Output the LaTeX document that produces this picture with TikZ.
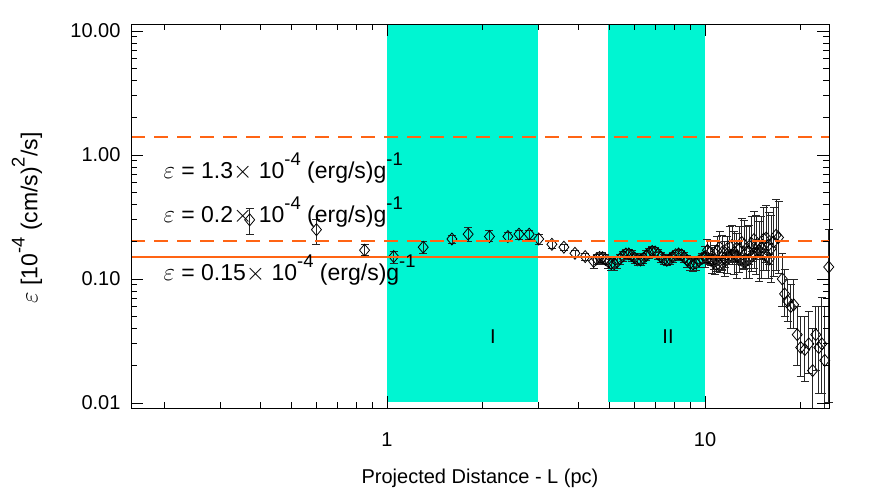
\documentclass[tikz,border=0pt]{standalone}
\usepackage{fontspec}
\setmainfont{Liberation Sans}
\newcommand\dpt[4]{%
\pgfmathsetmacro\px{387+318*log10(#1)}%
\pgfmathsetmacro\py{155-124*log10(#2)}%
\pgfmathsetmacro\plo{min(408,155-124*log10(#3))}%
\pgfmathsetmacro\phh{155-124*log10(#4)}%
\draw[ebar] (\px,\plo) -- (\px,\phh) (\px-4,\plo) -- (\px+4,\plo) (\px-4,\phh) -- (\px+4,\phh);
\draw[dmark] (\px-5,\py) -- (\px,\py-6) -- (\px+5,\py) -- (\px,\py+6) -- cycle;}
\newcommand\sprs[1]{\raisebox{0.55em}{\scalebox{0.8}{#1}}}
\begin{document}
\begin{tikzpicture}[x=1pt,y=-1pt,
  ebar/.style={line width=0.7pt,black!85},
  dmark/.style={line width=0.8pt,black},
  orl/.style={line width=2.2pt,color={rgb,255:red,255;green,100;blue,20}},
  lab/.style={font=\fontsize{20}{22}\selectfont},
  ann/.style={font=\fontsize{23}{25}\selectfont,anchor=west}]
\useasboundingbox (0,0) rectangle (872,491);
\fill[fill={rgb,255:red,0;green,245;blue,210}] (387,24) rectangle (538,402);
\fill[fill={rgb,255:red,0;green,245;blue,210}] (608,24) rectangle (705,402);
% data
\dpt{0.37}{0.30}{0.23}{0.37}
\dpt{0.6}{0.25}{0.19}{0.30}
\dpt{0.85}{0.17}{0.155}{0.19}
\dpt{1.05}{0.15}{0.13}{0.165}
\dpt{1.3}{0.18}{0.16}{0.20}
\dpt{1.6}{0.21}{0.195}{0.225}
\dpt{1.8}{0.23}{0.20}{0.26}
\dpt{2.1}{0.22}{0.20}{0.245}
\dpt{2.4}{0.22}{0.20}{0.24}
\dpt{2.6}{0.23}{0.21}{0.245}
\dpt{2.8}{0.23}{0.21}{0.245}
\dpt{3.0}{0.21}{0.19}{0.23}
\dpt{3.3}{0.19}{0.175}{0.20}
\dpt{3.6}{0.18}{0.17}{0.19}
\dpt{3.9}{0.16}{0.15}{0.17}
\dpt{4.2}{0.15}{0.14}{0.16}
\foreach \i in {0,...,60}{
  \pgfmathsetmacro\lx{0.65+\i*0.0092}
  \pgfmathsetmacro\xx{10^\lx}
  \pgfmathsetmacro\vv{0.145*(1+0.08*sin(\i*40))*(1+0.06*sin(\i*9-90))}
  \dpt{\xx}{\vv}{\vv*0.9}{\vv*1.1}
}
\foreach \i in {0,...,30}{
  \pgfmathsetmacro\lx{1.0+\i*0.0077}
  \pgfmathsetmacro\xx{10^\lx}
  \pgfmathsetmacro\vv{0.15*(1+0.012*\i)*(1+0.12*sin(\i*77))}
  \pgfmathsetmacro\ee{1+0.01*\i+0.1}
  \dpt{\xx}{\vv}{\vv/\ee/\ee}{\vv*\ee*\ee}
}
\dpt{17.5}{0.10}{0.06}{0.16}
\dpt{17.8}{0.075}{0.05}{0.12}
\dpt{18.2}{0.065}{0.045}{0.1}
\dpt{18.6}{0.06}{0.04}{0.09}
\dpt{19}{0.062}{0.04}{0.1}
\dpt{19.5}{0.035}{0.02}{0.06}
\dpt{20}{0.028}{0.016}{0.05}
\dpt{20.6}{0.027}{0.015}{0.05}
\dpt{21.2}{0.03}{0.017}{0.055}
\dpt{21.8}{0.018}{0.009}{0.04}
\dpt{22.3}{0.035}{0.018}{0.06}
\dpt{22.8}{0.028}{0.012}{0.06}
\dpt{23.3}{0.03}{0.012}{0.07}
\dpt{23.8}{0.022}{0.009}{0.06}
\dpt{24.5}{0.125}{0.01}{0.25}
% orange lines
\draw[orl,dash pattern=on 14pt off 9pt] (131,137) -- (829,137);
\draw[orl,dash pattern=on 14pt off 9pt] (131,241) -- (829,241);
\draw[orl] (131,257) -- (829,257);
% annotations
\node[ann] (a1) at (160,168) {$\varepsilon$ = 1.3$\times$ 10\sprs{-4} (erg/s)g\sprs{-1}};
\node[ann] (a2) at (160,212) {$\varepsilon$ = 0.2$\times$ 10\sprs{-4} (erg/s)g\sprs{-1}};
\node[ann] (a3) at (160,270) {$\varepsilon$ = 0.15$\times$ 10\sprs{-4} (erg/s)g\sprs{-1}};
\node[lab] (r1) at (493,337) {I};
\node[lab] (r2) at (668,337) {II};
% frame and ticks
\draw[line width=0.8pt] (131,24) rectangle (829,408);
\foreach \d in {-1,0,1}{
 \foreach \m in {2,...,9}{
  \pgfmathsetmacro\tx{387+318*(\d+log10(\m))}
  \ifdim\tx pt<829pt \ifdim\tx pt>131pt
   \draw[line width=0.7pt] (\tx,408) -- (\tx,402) (\tx,24) -- (\tx,30);
  \fi\fi}}
\foreach \tx in {387,705}{\draw[line width=0.7pt] (\tx,408) -- (\tx,396) (\tx,24) -- (\tx,36);}
\foreach \d in {-2,-1,0,1}{
 \foreach \m in {1,...,9}{
  \pgfmathsetmacro\ty{155-124*(\d+log10(\m))}
  \ifdim\ty pt>24pt
   \pgfmathsetmacro\tl{\m==1 ? 12 : 6}
   \draw[line width=0.7pt] (131,\ty) -- (131+\tl,\ty) (829,\ty) -- (829-\tl,\ty);
  \fi}}
\node[lab,anchor=east] (y1) at (124,31) {10.00};
\node[lab,anchor=east] (y2) at (124,155) {1.00};
\node[lab,anchor=east] (y3) at (124,279) {0.10};
\node[lab,anchor=east] (y4) at (124,403) {0.01};
\node[lab] (x1) at (387,440) {1};
\node[lab] (x2) at (705,440) {10};
\node[lab] (xl) at (480,478) {Projected Distance - L (pc)};
\node[font=\fontsize{23}{25}\selectfont,rotate=90] (yl) at (27,218) {$\varepsilon$ [10\sprs{-4} (cm/s)\sprs{2}/s]};
\end{tikzpicture}
\end{document}
